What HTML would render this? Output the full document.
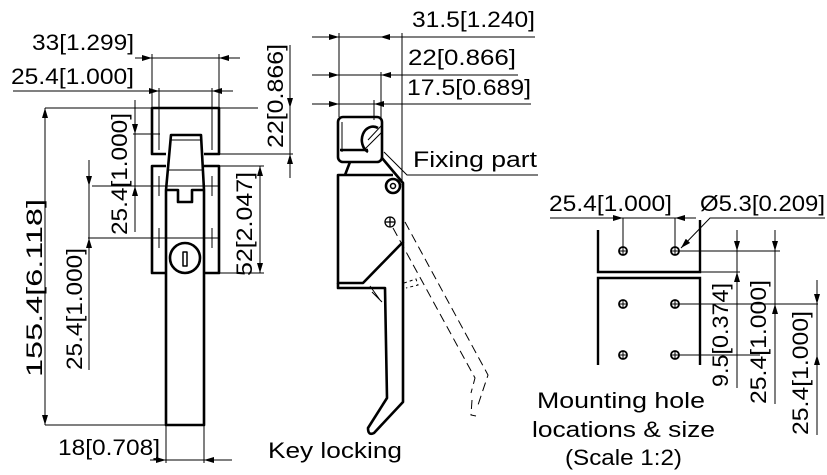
<!DOCTYPE html>
<html><head><meta charset="utf-8"><style>
html,body{margin:0;padding:0;background:#fff;}
svg{display:block;}
text{font-family:"Liberation Sans","DejaVu Sans",sans-serif;font-size:22px;fill:#000;}
</style></head><body>
<svg width="827" height="475" viewBox="0 0 827 475" xmlns="http://www.w3.org/2000/svg">
<defs>
<marker id="a" viewBox="0 0 10 6" refX="10" refY="3" markerWidth="10" markerHeight="6" orient="auto-start-reverse" markerUnits="userSpaceOnUse"><path d="M0,0 L10,3 L0,6 z" fill="#000"/></marker>
</defs>
<g stroke="#000" fill="none" stroke-width="1">
<line x1="135" y1="58" x2="240" y2="58"/>
<path d="M135,58 L152,58" marker-end="url(#a)"/><path d="M240,58 L219,58" marker-end="url(#a)"/>
<line x1="152" y1="54" x2="152" y2="108"/><line x1="219" y1="54" x2="219" y2="108"/>
<line x1="13" y1="91" x2="233" y2="91"/>
<path d="M140,91 L159,91" marker-end="url(#a)"/><path d="M232,91 L212,91" marker-end="url(#a)"/>
<line x1="159" y1="88" x2="159" y2="150"/><line x1="212" y1="88" x2="212" y2="150"/>
<line x1="45" y1="108" x2="258" y2="108"/>
<line x1="219" y1="154" x2="293" y2="154"/>
<line x1="290" y1="45" x2="290" y2="178"/>
<path d="M290,80 L290,108" marker-end="url(#a)"/><path d="M290,178 L290,154" marker-end="url(#a)"/>
<line x1="45" y1="108" x2="45" y2="425"/>
<path d="M45,180 L45,108" marker-end="url(#a)"/><path d="M45,350 L45,425" marker-end="url(#a)"/>
<line x1="45" y1="425" x2="166" y2="425"/>
<line x1="135" y1="100" x2="135" y2="232"/>
<path d="M135,100 L135,134" marker-end="url(#a)"/><path d="M135,205 L135,186" marker-end="url(#a)"/>
<line x1="133" y1="134" x2="160" y2="134"/>
<line x1="92" y1="186" x2="220" y2="186"/>
<line x1="88" y1="238" x2="220" y2="238"/>
<line x1="89" y1="160" x2="89" y2="370"/>
<path d="M89,160 L89,186" marker-end="url(#a)"/><path d="M89,265 L89,238" marker-end="url(#a)"/>
<line x1="219" y1="166" x2="264" y2="166"/><line x1="219" y1="273" x2="264" y2="273"/>
<line x1="260" y1="166" x2="260" y2="273"/>
<path d="M260,200 L260,166" marker-end="url(#a)"/><path d="M260,240 L260,273" marker-end="url(#a)"/>
<line x1="150" y1="460" x2="232" y2="460"/>
<path d="M150,460 L166,460" marker-end="url(#a)"/><path d="M222,460 L204,460" marker-end="url(#a)"/>
<line x1="166" y1="425" x2="166" y2="463"/><line x1="204" y1="425" x2="204" y2="463"/>
<line x1="159" y1="176" x2="159" y2="196"/><line x1="212" y1="176" x2="212" y2="196"/>
<line x1="159" y1="228" x2="159" y2="248"/><line x1="212" y1="228" x2="212" y2="248"/>
</g>
<g stroke="#000" fill="none" stroke-width="2.6" stroke-linejoin="round">
<path d="M166,154 H152 V108 H219 V154 H204"/>
<path d="M166,273 H152 V166 H166 M204,166 H219 V273 H204"/>
<path d="M171,135 H201 L204,190 V425 H166 V190 Z"/>
<path d="M166,190 H178 V202 H192 V190 H204"/>
<circle cx="185" cy="258" r="15" fill="#fff"/>
<rect x="183" y="252" width="4" height="14" stroke-width="1.5"/>
</g>
<g stroke="#000" fill="none" stroke-width="1">
<line x1="171" y1="140" x2="201" y2="140"/><line x1="168" y1="170" x2="202" y2="170"/>
</g>
<text x="32" y="50" textLength="102" lengthAdjust="spacingAndGlyphs">33[1.299]</text>
<text x="11" y="84" textLength="123" lengthAdjust="spacingAndGlyphs">25.4[1.000]</text>
<text transform="translate(283,148) rotate(-90)" textLength="104" lengthAdjust="spacingAndGlyphs">22[0.866]</text>
<text transform="translate(42,377) rotate(-90)" textLength="178" lengthAdjust="spacingAndGlyphs">155.4[6.118]</text>
<text transform="translate(82,370) rotate(-90)" textLength="122" lengthAdjust="spacingAndGlyphs">25.4[1.000]</text>
<text transform="translate(127,235) rotate(-90)" textLength="122" lengthAdjust="spacingAndGlyphs">25.4[1.000]</text>
<text transform="translate(252,276) rotate(-90)" textLength="104" lengthAdjust="spacingAndGlyphs">52[2.047]</text>
<text x="58" y="455" textLength="102" lengthAdjust="spacingAndGlyphs">18[0.708]</text>

<!-- MIDDLE VIEW -->
<g stroke="#000" fill="none" stroke-width="1">
<line x1="312" y1="37" x2="535" y2="37"/>
<path d="M312,37 L339,37" marker-end="url(#a)"/><path d="M380,37 L402,37" marker-start="url(#a)"/>
<line x1="312" y1="75" x2="518" y2="75"/>
<path d="M312,75 L339,75" marker-end="url(#a)"/><path d="M410,75 L381,75" marker-end="url(#a)"/>
<line x1="312" y1="104" x2="531" y2="104"/>
<path d="M312,104 L339,104" marker-end="url(#a)"/><path d="M395,104 L374,104" marker-end="url(#a)"/>
<line x1="339" y1="33" x2="339" y2="117"/>
<line x1="402" y1="33" x2="402" y2="185"/>
<line x1="381" y1="72" x2="381" y2="120"/>
<line x1="374" y1="100" x2="374" y2="120"/>
<path d="M384,152 L407,175 H538"/>
<path d="M405,222 L488,375 L478,405" stroke-dasharray="9,5"/>
<path d="M393,228 L475,378 L471,393 M472,400 L471,415 L476,416" stroke-dasharray="9,5"/>
<path d="M404,283 L416,279 L418,285 L406,288" stroke-dasharray="3,3"/>
<path d="M370,286 L380,300 M372,292 L382,302" />
<path d="M368,140 L382,125 M364,150 L382,132"/>
<line x1="342" y1="122" x2="342" y2="152"/>
</g>
<g stroke="#000" fill="none" stroke-width="2.6" stroke-linejoin="round">
<rect x="338" y="117" width="44" height="45" rx="5"/>
<path d="M340,150 H368"/>
<path d="M368,152 A10,12 0 0 1 378,128"/>
<path d="M382,158 L403,183 V242 L363,283 H338 V175 H393"/>
<path d="M345,175 L350,162"/>
<path d="M338,283 V288 H385 L387,398 L368,428 Q368,436 374,433 L403,402 V242"/>
<circle cx="393" cy="186" r="7"/>
<circle cx="393" cy="186" r="2.5" stroke-width="1.5"/>
</g>
<g stroke="#000" fill="none" stroke-width="1.3">
<circle cx="390" cy="222" r="5"/><line x1="385" y1="222" x2="395" y2="222"/><line x1="390" y1="217" x2="390" y2="227"/>
</g>
<text x="412" y="27" textLength="123" lengthAdjust="spacingAndGlyphs">31.5[1.240]</text>
<text x="408" y="65" textLength="108" lengthAdjust="spacingAndGlyphs">22[0.866]</text>
<text x="407" y="95" textLength="124" lengthAdjust="spacingAndGlyphs">17.5[0.689]</text>
<text x="413" y="167" textLength="124" lengthAdjust="spacingAndGlyphs">Fixing part</text>
<text x="268" y="458" textLength="134" lengthAdjust="spacingAndGlyphs">Key locking</text>

<!-- RIGHT VIEW -->
<g stroke="#000" fill="none" stroke-width="1">
<line x1="550" y1="218" x2="696" y2="218"/>
<path d="M600,218 L623,218" marker-end="url(#a)"/><path d="M696,218 L675,218" marker-end="url(#a)"/>
<line x1="623" y1="218" x2="623" y2="248"/><line x1="675" y1="218" x2="675" y2="248"/>
<path d="M825,218 H710 L681,248" marker-end="url(#a)"/>
<line x1="679" y1="251" x2="780" y2="251"/>
<line x1="700" y1="272" x2="740" y2="272"/>
<line x1="679" y1="304" x2="818" y2="304"/>
<line x1="679" y1="355" x2="760" y2="355"/>
<line x1="737" y1="230" x2="737" y2="388"/>
<path d="M737,230 L737,251" marker-end="url(#a)"/><path d="M737,295 L737,272" marker-end="url(#a)"/>
<line x1="775" y1="230" x2="775" y2="404"/>
<path d="M775,230 L775,251" marker-end="url(#a)"/><path d="M775,330 L775,304" marker-end="url(#a)"/>
<line x1="817" y1="280" x2="817" y2="435"/>
<path d="M817,280 L817,304" marker-end="url(#a)"/><path d="M817,380 L817,355" marker-end="url(#a)"/>
</g>
<g stroke="#000" fill="none" stroke-width="2.4">
<path d="M598,230 V272 H700 V220"/>
<path d="M598,365 V278 H700 V365"/>
</g>
<g stroke="#000" fill="none" stroke-width="1.8">
<circle cx="623" cy="251" r="4"/><circle cx="675" cy="251" r="4"/>
<circle cx="623" cy="304" r="4"/><circle cx="675" cy="304" r="4"/>
<circle cx="623" cy="355" r="4"/><circle cx="675" cy="355" r="4"/>
</g>
<g stroke="#000" stroke-width="1">
<path d="M619,251h8M623,247v8M671,251h8M675,247v8M619,304h8M623,300v8M671,304h8M675,300v8M619,355h8M623,351v8M671,355h8M675,351v8"/>
</g>
<text x="549" y="211" textLength="123" lengthAdjust="spacingAndGlyphs">25.4[1.000]</text>
<text x="700" y="211" textLength="125" lengthAdjust="spacingAndGlyphs">Ø5.3[0.209]</text>
<text transform="translate(728,387) rotate(-90)" textLength="104" lengthAdjust="spacingAndGlyphs">9.5[0.374]</text>
<text transform="translate(766,404) rotate(-90)" textLength="124" lengthAdjust="spacingAndGlyphs">25.4[1.000]</text>
<text transform="translate(808,435) rotate(-90)" textLength="124" lengthAdjust="spacingAndGlyphs">25.4[1.000]</text>
<text x="537" y="408" textLength="168" lengthAdjust="spacingAndGlyphs">Mounting hole</text>
<text x="532" y="437" textLength="183" lengthAdjust="spacingAndGlyphs">locations &amp; size</text>
<text x="565" y="465" textLength="117" lengthAdjust="spacingAndGlyphs">(Scale 1:2)</text>
</svg>
</body></html>
